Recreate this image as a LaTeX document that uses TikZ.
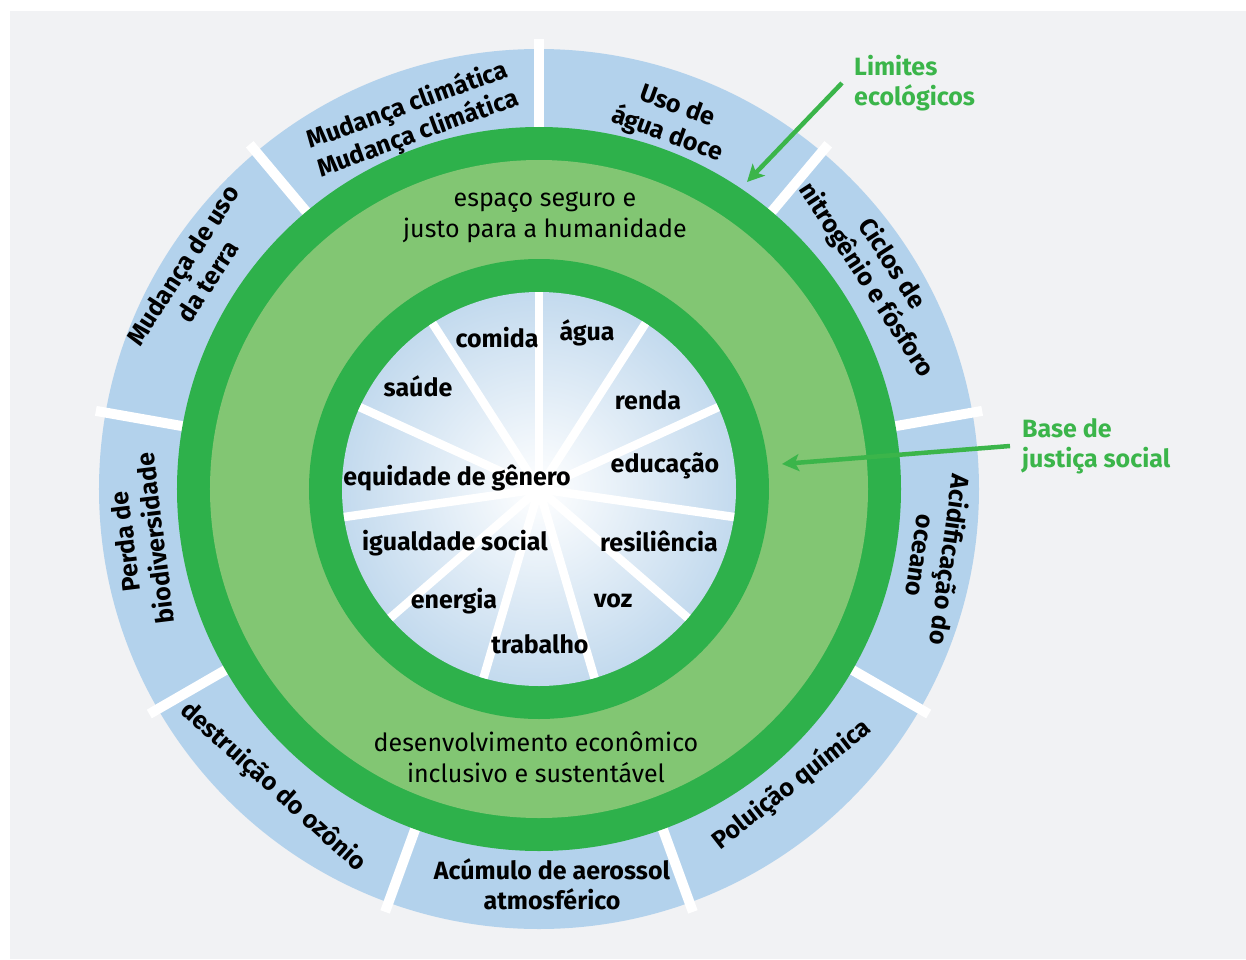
\documentclass[tikz,border=0pt]{standalone}
\usepackage{fontspec}
\setmainfont{Fira Sans}
\usetikzlibrary{arrows.meta}
\definecolor{fundo}{HTML}{F1F2F4}
\definecolor{azul}{HTML}{B3D2EC}
\definecolor{azuldisco}{HTML}{C3DAEE}
\definecolor{verdeesc}{HTML}{2EB14B}
\definecolor{verdecla}{HTML}{82C673}
\definecolor{verdetxt}{HTML}{3BB54A}
\pgfdeclareradialshading{disco}{\pgfpoint{0bp}{0bp}}{color(0bp)=(white); color(25bp)=(azuldisco); color(50bp)=(azuldisco)}

\begin{document}
\begin{tikzpicture}[x=1pt,y=1pt,
  rotulo/.style={font=\fontsize{25}{30}\selectfont\bfseries, align=center, inner sep=0pt},
  faixa/.style={font=\fontsize{25}{31}\selectfont, align=center},
  nota/.style={font=\fontsize{25}{30}\selectfont\bfseries, text=verdetxt, align=left, inner sep=12pt},
  seta/.style={verdetxt, line width=4.5pt, -{Stealth[length=17pt,width=17pt,inset=4pt]}}]
\useasboundingbox (-539,-470) rectangle (707,489);
\fill[white] (-539,-470) rectangle (707,489);
\fill[fundo] (-529,-470) rectangle (707,478);
% limites planetarios
\fill[azul] (0,0) circle (440);
\foreach \a in {10,50,...,330} \draw[white, line width=10pt] (\a:300) -- (\a:450);
\fill[verdeesc] (0,0) circle (362);
\fill[verdecla] (0,0) circle (329);
\fill[verdeesc] (0,0) circle (230);
\shade[shading=disco] (0,0) circle (197);
\foreach \k in {0,...,10} \draw[white, line width=8.5pt] (0,0) -- ({90+\k*360/11}:197);

% base social
\node[rotulo] (comida) at (-42,151) {comida};
\node[rotulo] (agua) at (48,156) {água};
\node[rotulo] (saude) at (-121,103) {saúde};
\node[rotulo] (renda) at (109,89) {renda};
\node[rotulo] (genero) at (-82,11) {equidade de gênero};
\node[rotulo] (educacao) at (126,23) {educação};
\node[rotulo] (igualdade) at (-84,-54) {igualdade social};
\node[rotulo] (resiliencia) at (120,-52) {resiliência};
\node[rotulo] (energia) at (-85,-112) {energia};
\node[rotulo] (voz) at (74,-112) {voz};
\node[rotulo] (trabalho) at (1,-155) {trabalho};

\node[faixa] (espaco) at (6,272) {espaço seguro e\\justo para a humanidade};
\node[faixa] (desenv) at (-3,-268) {desenvolvimento econômico\\inclusivo e sustentável};

\node[rotulo, rotate=20] (clima) at (-126,369) {Mudança climática\\Mudança climática};
\node[rotulo, rotate=-20] (aguadoce) at (133,368) {Uso de\\água doce};
\node[rotulo, rotate=-57] (ciclos) at (340,217) {Ciclos de\\nitrogênio e fósforo};
\node[rotulo, rotate=-98] (oceano) at (397,-69) {Acidificação do\\oceano};
\node[rotulo, rotate=38] (poluicao) at (253,-296) {Poluição química};
\node[rotulo] (aerossol) at (13,-395) {Acúmulo de aerossol\\atmosférico};
\node[rotulo, rotate=-42] (ozonio) at (-266,-298) {destruição do ozônio};
\node[rotulo, rotate=97] (biodiv) at (-399,-51) {Perda de\\biodiversidade};
\node[rotulo, rotate=57] (terra) at (-344,216) {Mudança de uso\\da terra};

\node[nota, anchor=west] (limites) at (303,406) {Limites\\ecológicos};
\node[nota, anchor=west] (base) at (471,43) {Base de\\justiça social};
\coordinate (limTip) at (208,307);
\coordinate (baseTip) at (243,25);
\draw[seta] (limites.west) -- (limTip);
\draw[seta] (base.west) -- (baseTip);
\end{tikzpicture}
\end{document}
